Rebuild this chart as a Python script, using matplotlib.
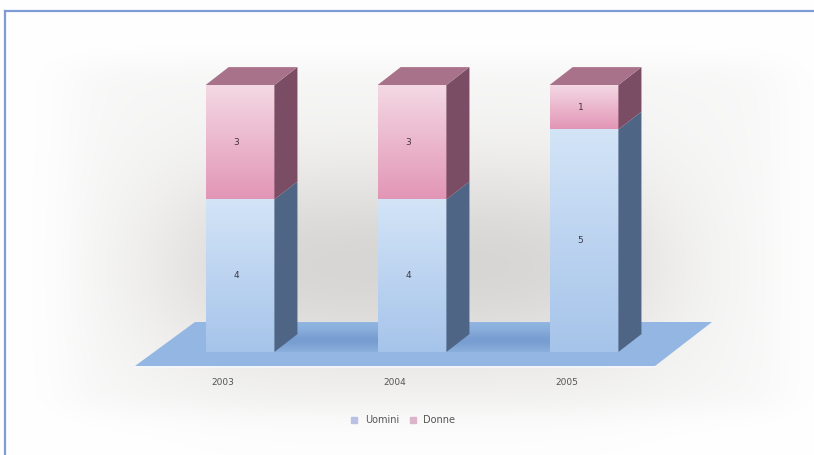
import matplotlib.pyplot as plt
import numpy as np
from matplotlib.patches import Polygon
from matplotlib.lines import Line2D
from matplotlib.colors import to_rgb

# data
anni = ['2003', '2004', '2005']
uomini = [4, 4, 5]
donne = [3, 3, 1]

col_u_top, col_u_bot = '#d3e4f7', '#a6c4ea'
col_d_top, col_d_bot = '#f4d9e4', '#e296b6'
col_u_side = '#4f6585'
col_d_side = '#7b4d64'
col_top = '#a9728b'

W, H = 814, 455
fig = plt.figure(figsize=(W / 100, H / 100), dpi=100)

# background layer in pixel coordinates
bg = fig.add_axes([0, 0, 1, 1], zorder=0)
bg.axis('off')

xx, yy = np.meshgrid(np.arange(W), np.arange(H))
box = (1 / (1 + np.exp(-(xx - 70) / 18)) * 1 / (1 + np.exp((xx - 780) / 18))
       * 1 / (1 + np.exp(-(yy - 62) / 8)) * 1 / (1 + np.exp((yy - 410) / 8)))
core = np.exp(-((xx - 410) / 255) ** 4) * np.exp(-((yy - 265) / 105) ** 2)
shade = 1 - 0.03 * box - 0.13 * core
img = np.dstack([shade ** 0.95, shade ** 1.0, shade ** 1.05])
bg.imshow(np.clip(img, 0, 1), extent=[0, W, H, 0], aspect='auto', zorder=0)

# floor plane
floor = Polygon([(135, 366), (655, 366), (712, 322), (195, 322)],
                closed=True, facecolor='#93b7e2', edgecolor='none', zorder=1)
bg.add_patch(floor)
bg.plot([135, 655], [367, 367], color='#f4f7fb', lw=1.2, zorder=1)

# darker floor between the bars
g = np.linspace(0, 1, 40)[:, None]
sh = np.exp(-((g - 0.6) / 0.35) ** 2)
for x0, x1 in [(274, 378), (446, 550)]:
    c = np.dstack([0.57 - 0.10 * sh, 0.71 - 0.09 * sh, 0.88 - 0.06 * sh])
    c = np.repeat(c, 2, axis=1)
    bg.imshow(c, extent=[x0, x1, 352, 323], aspect='auto', zorder=2,
              interpolation='bilinear')

# frame lines
bg.plot([5, W], [11, 11], color='#7f9bd6', lw=1.6, zorder=5)
bg.plot([5, 5], [11, H], color='#7f9bd6', lw=1.6, zorder=5)
bg.set_xlim(0, W)
bg.set_ylim(H, 0)

# bars (100% stacked)
ax = fig.add_axes([136.8 / W, 103 / H, 550.4 / W, 267 / H], zorder=2)
ax.axis('off')
ax.patch.set_alpha(0)

x = np.arange(len(anni))
tot = np.array(uomini) + np.array(donne)
pu = np.array(uomini) / tot * 100
pd = np.array(donne) / tot * 100
bw = 0.4
dx, dy = 0.134, 6.7


def grad_face(x0, x1, y0, y1, ctop, cbot):
    t = np.linspace(0, 1, 64)[:, None, None]
    a = np.array(to_rgb(ctop))
    b = np.array(to_rgb(cbot))
    arr = a * (1 - t) + b * t
    arr = np.repeat(arr, 2, axis=1)
    ax.imshow(arr, extent=[x0, x1, y0, y1], aspect='auto', zorder=3,
              interpolation='bilinear')


for i in range(len(anni)):
    xl, xr = x[i] - bw / 2, x[i] + bw / 2
    segs = [(0, pu[i], col_u_top, col_u_bot, col_u_side),
            (pu[i], pu[i] + pd[i], col_d_top, col_d_bot, col_d_side)]
    for y0, y1, ct, cb, cs in segs:
        grad_face(xl, xr, y0, y1, ct, cb)
        side = Polygon([(xr, y0), (xr + dx, y0 + dy), (xr + dx, y1 + dy), (xr, y1)],
                       closed=True, facecolor=cs, edgecolor='none', zorder=3, clip_on=False)
        ax.add_patch(side)
    top = pu[i] + pd[i]
    ax.add_patch(Polygon([(xl, top), (xr, top), (xr + dx, top + dy), (xl + dx, top + dy)],
                         closed=True, facecolor=col_top, edgecolor='none', zorder=3, clip_on=False))
    ax.text(x[i] - 0.02, pu[i] / 2, str(uomini[i]), ha='center', va='center',
            fontsize=6.5, color='#3a3a48', zorder=4)
    ax.text(x[i] - 0.02, pu[i] + pd[i] / 2, str(donne[i]), ha='center', va='center',
            fontsize=6.5, color='#4a3040', zorder=4)
    ax.text(x[i] - 0.1, -11.5, anni[i], ha='center', va='center',
            fontsize=6.5, color='#555555', zorder=4)

ax.set_xlim(-0.6, 2.6)
ax.set_ylim(0, 100)

handles = [Line2D([], [], marker='s', ls='', markersize=5, color='#b9c2e4'),
           Line2D([], [], marker='s', ls='', markersize=5, color='#dcb5ca')]
fig.legend(handles, ['Uomini', 'Donne'], loc='center', bbox_to_anchor=(400 / W, 1 - 420 / H),
           ncol=2, frameon=False, fontsize=7, handletextpad=0.1, columnspacing=0.4,
           labelcolor='#555555')

fig.savefig('out.png', dpi=100)
